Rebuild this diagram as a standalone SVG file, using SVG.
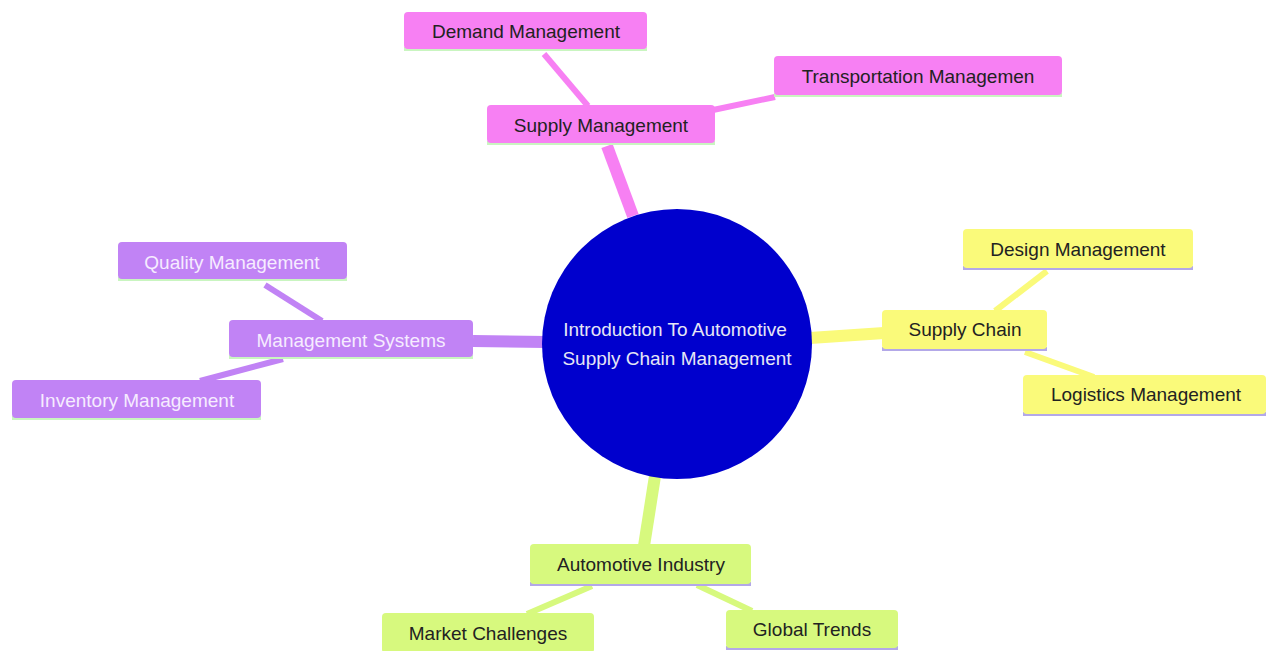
<svg xmlns="http://www.w3.org/2000/svg" width="1266" height="651" viewBox="0 0 1266 651">
<style>
text{font-family:"Liberation Sans",Arial,sans-serif;font-size:19px;text-anchor:middle;dominant-baseline:central}
.pk rect.b{fill:#f780f3}
.pu rect.b{fill:#c183f5}
.ye rect.b{fill:#fafa7a}
.gr rect.b{fill:#d7f97e}
.pk text,.ye text,.gr text{fill:#222}
.pu text{fill:#f6ecff}
.l1{stroke-width:12;fill:none;stroke-linecap:butt}
.l2{stroke-width:6;fill:none;stroke-linecap:butt}
.lg{fill:#c9f5c0}
.ll{fill:#b3a8e8}
</style>
<rect width="1266" height="651" fill="#ffffff"/>
<g id="connectors">
<line class="l1" x1="633" y1="216" x2="607" y2="146" stroke="#f780f3"/>
<line class="l2" x1="544" y1="54" x2="588" y2="106" stroke="#f780f3"/>
<line class="l2" x1="775" y1="97" x2="713" y2="110" stroke="#f780f3"/>
<line class="l1" x1="473" y1="341" x2="546" y2="342" stroke="#c183f5"/>
<line class="l2" x1="265" y1="285" x2="322" y2="321" stroke="#c183f5"/>
<line class="l2" x1="283" y1="359" x2="200" y2="381" stroke="#c183f5"/>
<line class="l1" x1="810" y1="338" x2="884" y2="333" stroke="#fafa7a"/>
<line class="l2" x1="1047" y1="271" x2="995" y2="311" stroke="#fafa7a"/>
<line class="l2" x1="1025" y1="352" x2="1094" y2="377" stroke="#fafa7a"/>
<line class="l1" x1="655" y1="476" x2="644" y2="546" stroke="#d7f97e"/>
<line class="l2" x1="592" y1="586" x2="527" y2="614" stroke="#d7f97e"/>
<line class="l2" x1="697" y1="585" x2="752" y2="611" stroke="#d7f97e"/>
</g>
<g id="root">
<circle cx="677" cy="344" r="135" fill="#0000cd"/>
<text x="675" y="329" fill="#e6e6f5">Introduction To Automotive</text>
<text x="677" y="358" fill="#e6e6f5">Supply Chain Management</text>
</g>
<g id="supply-management" class="pk">
<rect class="lg" x="487" y="141" width="228" height="4"/>
<rect class="b" x="487" y="105" width="228" height="38" rx="4"/>
<text x="601" y="125">Supply Management</text>
</g>
<g id="demand-management" class="pk">
<rect class="lg" x="404" y="47" width="243" height="4"/>
<rect class="b" x="404" y="12" width="243" height="37" rx="4"/>
<text x="526" y="31">Demand Management</text>
</g>
<g id="transportation-management" class="pk">
<rect class="lg" x="774" y="93" width="288" height="4"/>
<rect class="b" x="774" y="56" width="288" height="39" rx="4"/>
<text x="918" y="76">Transportation Managemen</text>
</g>
<g id="management-systems" class="pu">
<rect class="lg" x="229" y="355" width="244" height="4"/>
<rect class="b" x="229" y="320" width="244" height="37" rx="4"/>
<text x="351" y="340">Management Systems</text>
</g>
<g id="quality-management" class="pu">
<rect class="lg" x="118" y="277" width="229" height="4"/>
<rect class="b" x="118" y="242" width="229" height="37" rx="4"/>
<text x="232" y="262">Quality Management</text>
</g>
<g id="inventory-management" class="pu">
<rect class="lg" x="12" y="416" width="249" height="4"/>
<rect class="b" x="12" y="380" width="249" height="38" rx="4"/>
<text x="137" y="400">Inventory Management</text>
</g>
<g id="supply-chain" class="ye">
<rect class="ll" x="882" y="347" width="165" height="4"/>
<rect class="b" x="882" y="310" width="165" height="39" rx="4"/>
<text x="965" y="329">Supply Chain</text>
</g>
<g id="design-management" class="ye">
<rect class="ll" x="963" y="266" width="230" height="4"/>
<rect class="b" x="963" y="229" width="230" height="39" rx="4"/>
<text x="1078" y="249">Design Management</text>
</g>
<g id="logistics-management" class="ye">
<rect class="ll" x="1023" y="412" width="243" height="4"/>
<rect class="b" x="1023" y="375" width="243" height="39" rx="4"/>
<text x="1146" y="394">Logistics Management</text>
</g>
<g id="automotive-industry" class="gr">
<rect class="ll" x="530" y="582" width="221" height="4"/>
<rect class="b" x="530" y="544" width="221" height="40" rx="4"/>
<text x="641" y="564">Automotive Industry</text>
</g>
<g id="market-challenges" class="gr">
<rect class="b" x="382" y="613" width="212" height="40" rx="4"/>
<text x="488" y="633">Market Challenges</text>
</g>
<g id="global-trends" class="gr">
<rect class="ll" x="726" y="646" width="172" height="4"/>
<rect class="b" x="726" y="610" width="172" height="38" rx="4"/>
<text x="812" y="629">Global Trends</text>
</g>
</svg>
